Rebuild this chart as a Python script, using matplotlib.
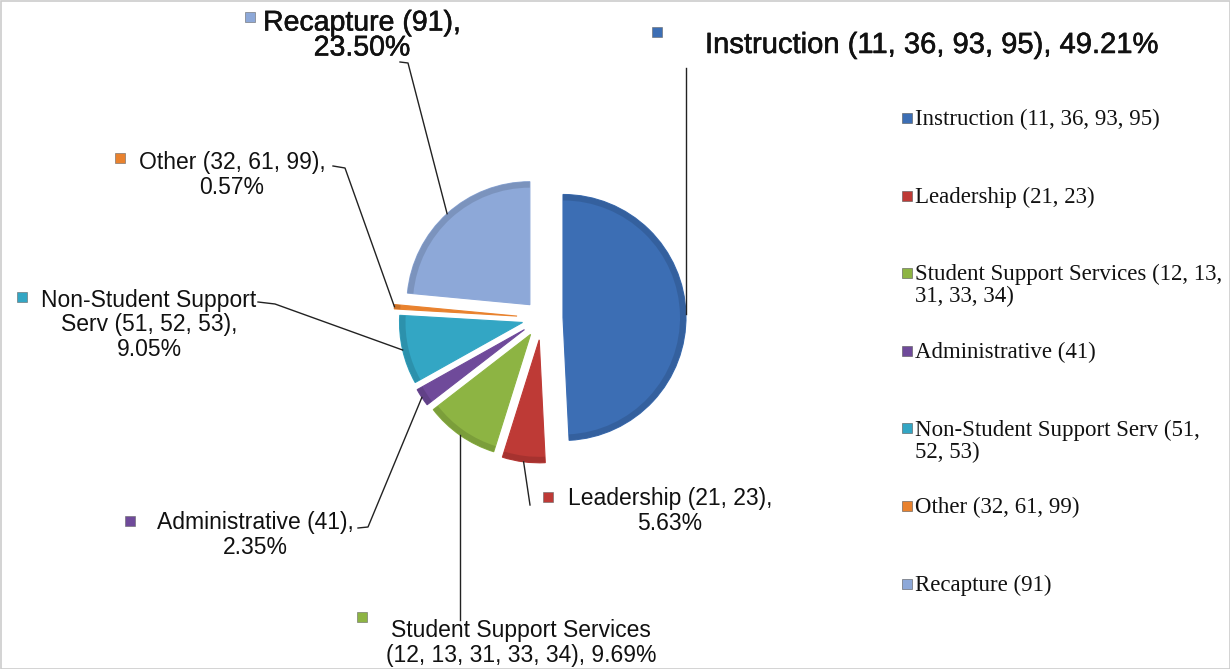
import textwrap
import numpy as np
import matplotlib
matplotlib.use("Agg")
import matplotlib.pyplot as plt
import matplotlib.patheffects as pe

# data
categories = ["Instruction (11, 36, 93, 95)", "Leadership (21, 23)",
              "Student Support Services (12, 13, 31, 33, 34)", "Administrative (41)",
              "Non-Student Support Serv (51, 52, 53)", "Other (32, 61, 99)",
              "Recapture (91)"]
shares = [49.21, 5.63, 9.69, 2.35, 9.05, 0.57, 23.50]

colors = ['#3C6EB4', '#BE3A36', '#8DB443', '#6F4A9A', '#33A6C4', '#E9822E', '#8DA8D8']

W, H = 1230, 669
fig = plt.figure(figsize=(W / 100, H / 100), dpi=100)
ax = fig.add_axes([0, 0, 1, 1])

def Y(y):
    # pixel row -> data y
    return H - y

R = 123
# explode is in data units (pixels here)
wedges, _ = ax.pie(shares, colors=colors, startangle=90, counterclock=False,
                   explode=[21, 22, 20, 21, 20, 25, 18],
                   radius=R, center=(542, Y(318)), frame=True,
                   wedgeprops=dict(linewidth=0.8))
ax.set_xlim(0, W)
ax.set_ylim(0, H)
ax.set_aspect('equal')
ax.axis('off')

# subtle shading: darker rim
for w, c in zip(wedges, colors):
    w.set_edgecolor(c)
    ax.add_patch(matplotlib.patches.Wedge(w.center, w.r, w.theta1, w.theta2,
                                          width=6, facecolor='black', alpha=0.12,
                                          linewidth=0))

def arc_point(w):
    a = np.deg2rad((w.theta1 + w.theta2) / 2)
    return (w.center[0] + w.r * np.cos(a), w.center[1] + w.r * np.sin(a))

# data label layout: wrap width, text anchor (px), marker (px), leader start points (px)
wrap_w = [60, 20, 27, 20, 19, 20, 16]
text_pos = [(705, 45), (670, 511), (521, 643), (255, 535), (149, 325), (232, 175), (362, 36)]
text_ha = ['left', 'center', 'center', 'center', 'center', 'center', 'center']
mark_pos = [(657, 32), (548, 497), (362, 617), (130, 521), (22, 297), (120, 158), (250, 17)]
lead_pts = [[(None, 68)], [(530, 505)], [(None, 620)], [(358, 528), (368, 527)],
            [(258, 302), (275, 304)], [(333, 166), (345, 168)], [(400, 62), (408, 63)]]
big = [True, False, False, False, False, False, True]

sans = ['Liberation Sans', 'DejaVu Sans']
for i, (cat, val) in enumerate(zip(categories, shares)):
    txt = textwrap.fill("{}, {:.2f}%".format(cat, val), wrap_w[i])
    tx, ty = text_pos[i]
    t = ax.text(tx, Y(ty), txt, ha=text_ha[i], va='center', multialignment='center',
                family=sans, fontsize=(21 if i == 0 else 20.5) if big[i] else 16.5,
                color='#111111', linespacing=0.95 if big[i] else 1.1)
    if big[i]:
        t.set_path_effects([pe.withStroke(linewidth=0.4, foreground='#111111')])
    mx, my = mark_pos[i]
    ax.plot(mx, Y(my), marker='s', ms=7.5, color=colors[i], mec='#666666', mew=0.4)
    px, py = arc_point(wedges[i])
    xs, ys = [], []
    for (lx, ly) in lead_pts[i]:
        xs.append(px if lx is None else lx)
        ys.append(Y(ly))
    xs.append(px)
    ys.append(py)
    ax.plot(xs, ys, color='#222222', lw=1.0)

# legend (manual, fixed pitch)
serif = ['Liberation Serif', 'DejaVu Serif']
leg_w = [34, 34, 34, 34, 29, 34, 34]
for i, cat in enumerate(categories):
    y = 118 + i * 77.6
    ax.plot(907, Y(y), marker='s', ms=6.5, color=colors[i], mec='#555555', mew=0.4)
    ax.text(915, Y(y - 9), textwrap.fill(cat, leg_w[i]), ha='left', va='top',
            family=serif, fontsize=16.5, color='#111111', linespacing=1.05)

# frame
ax.add_patch(matplotlib.patches.Rectangle((0.5, 0.5), W - 1, H - 1, fill=False,
                                          edgecolor='#cccccc', lw=1.2))

fig.savefig('out.png', dpi=100)
